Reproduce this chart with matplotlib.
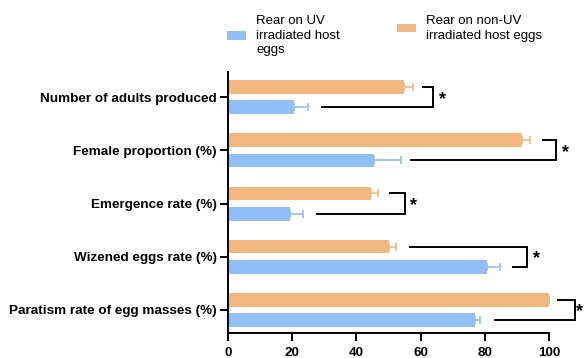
import matplotlib
matplotlib.use("Agg")
import matplotlib.pyplot as plt
import numpy as np

plt.rcParams['font.family'] = ['Liberation Sans', 'DejaVu Sans']

# traits, listed bottom to top
traits = ["Paratism rate of egg masses (%)", "Wizened eggs rate (%)",
          "Emergence rate (%)", "Female proportion (%)", "Number of adults produced"]
uv_mean = [76.8, 80.6, 19.4, 45.6, 20.6]
uv_err = [1.7, 4.2, 4.0, 8.3, 4.3]
nonuv_mean = [100.0, 50.0, 44.7, 91.6, 54.9]
nonuv_err = [0.0, 2.3, 2.0, 2.4, 2.8]

# significance brackets: (start of non-UV arm, start of UV arm, bracket x)
brk_nonuv = [102.9, 56.7, 50.5, 98.2, 60.8]
brk_uv = [83.2, 88.9, 27.6, 56.9, 29.4]
brk_x = [108.1, 93.2, 55.1, 102.2, 64.0]
sig = ["*", "*", "*", "*", "*"]

c_uv = "#8FBEF8"
c_nonuv = "#F2B77E"

fig = plt.figure(figsize=(5.84, 3.58), dpi=100)
ax = fig.add_axes([0.3904, 0.0707, 0.5497, 0.7282])

y = np.arange(len(traits))
off = 0.19
h = 0.26
b_non = ax.barh(y + off, nonuv_mean, height=h, color=c_nonuv)
b_uv = ax.barh(y - off, uv_mean, height=h, color=c_uv)
ax.errorbar(nonuv_mean, y + off, xerr=[np.zeros(5), nonuv_err], fmt="none",
            ecolor=c_nonuv, elinewidth=1.2, capsize=3, capthick=1.2)
ax.errorbar(uv_mean, y - off, xerr=[np.zeros(5), uv_err], fmt="none",
            ecolor=c_uv, elinewidth=1.2, capsize=3, capthick=1.2)

for i in range(len(traits)):
    ax.plot([brk_nonuv[i], brk_x[i], brk_x[i], brk_uv[i]],
            [y[i] + off, y[i] + off, y[i] - off, y[i] - off],
            color="black", lw=1.4, clip_on=False, solid_joinstyle="miter")
    ax.text(min(brk_x[i] + 2.8, 109.4), y[i] - 0.04, sig[i], fontsize=13,
            fontweight="bold", ha="center", va="center", clip_on=False)

ax.set_xlim(0, 100)
ax.set_ylim(-0.43, 4.475)
ax.set_xticks([0, 20, 40, 60, 80, 100])
ax.set_yticks(y)
ax.set_yticklabels(traits)
for lab in ax.get_xticklabels() + ax.get_yticklabels():
    lab.set_fontweight("bold")
    lab.set_fontsize(9.7)
ax.tick_params(width=1.4, length=5.5)
ax.tick_params(axis="x", pad=5)
ax.tick_params(axis="y", pad=2.5)
for s in ["top", "right"]:
    ax.spines[s].set_visible(False)
for s in ["left", "bottom"]:
    ax.spines[s].set_linewidth(1.4)

# two separate legend entries, top-aligned
leg_kw = dict(loc="upper left", frameon=False, fontsize=9.5, borderpad=0,
              borderaxespad=0, handlelength=1.45, handleheight=0.6, handletextpad=0.75)
leg1 = fig.legend([b_uv], ["Rear on UV\nirradiated host\neggs"],
                  bbox_to_anchor=(0.3887, 0.958), **leg_kw)
leg2 = fig.legend([b_non], ["Rear on non-UV\nirradiated host eggs"],
                  bbox_to_anchor=(0.6798, 0.958), **leg_kw)
for lg in (leg1, leg2):
    for t in lg.get_texts():
        t.set_linespacing(1.28)

fig.savefig("out.png", dpi=100)
